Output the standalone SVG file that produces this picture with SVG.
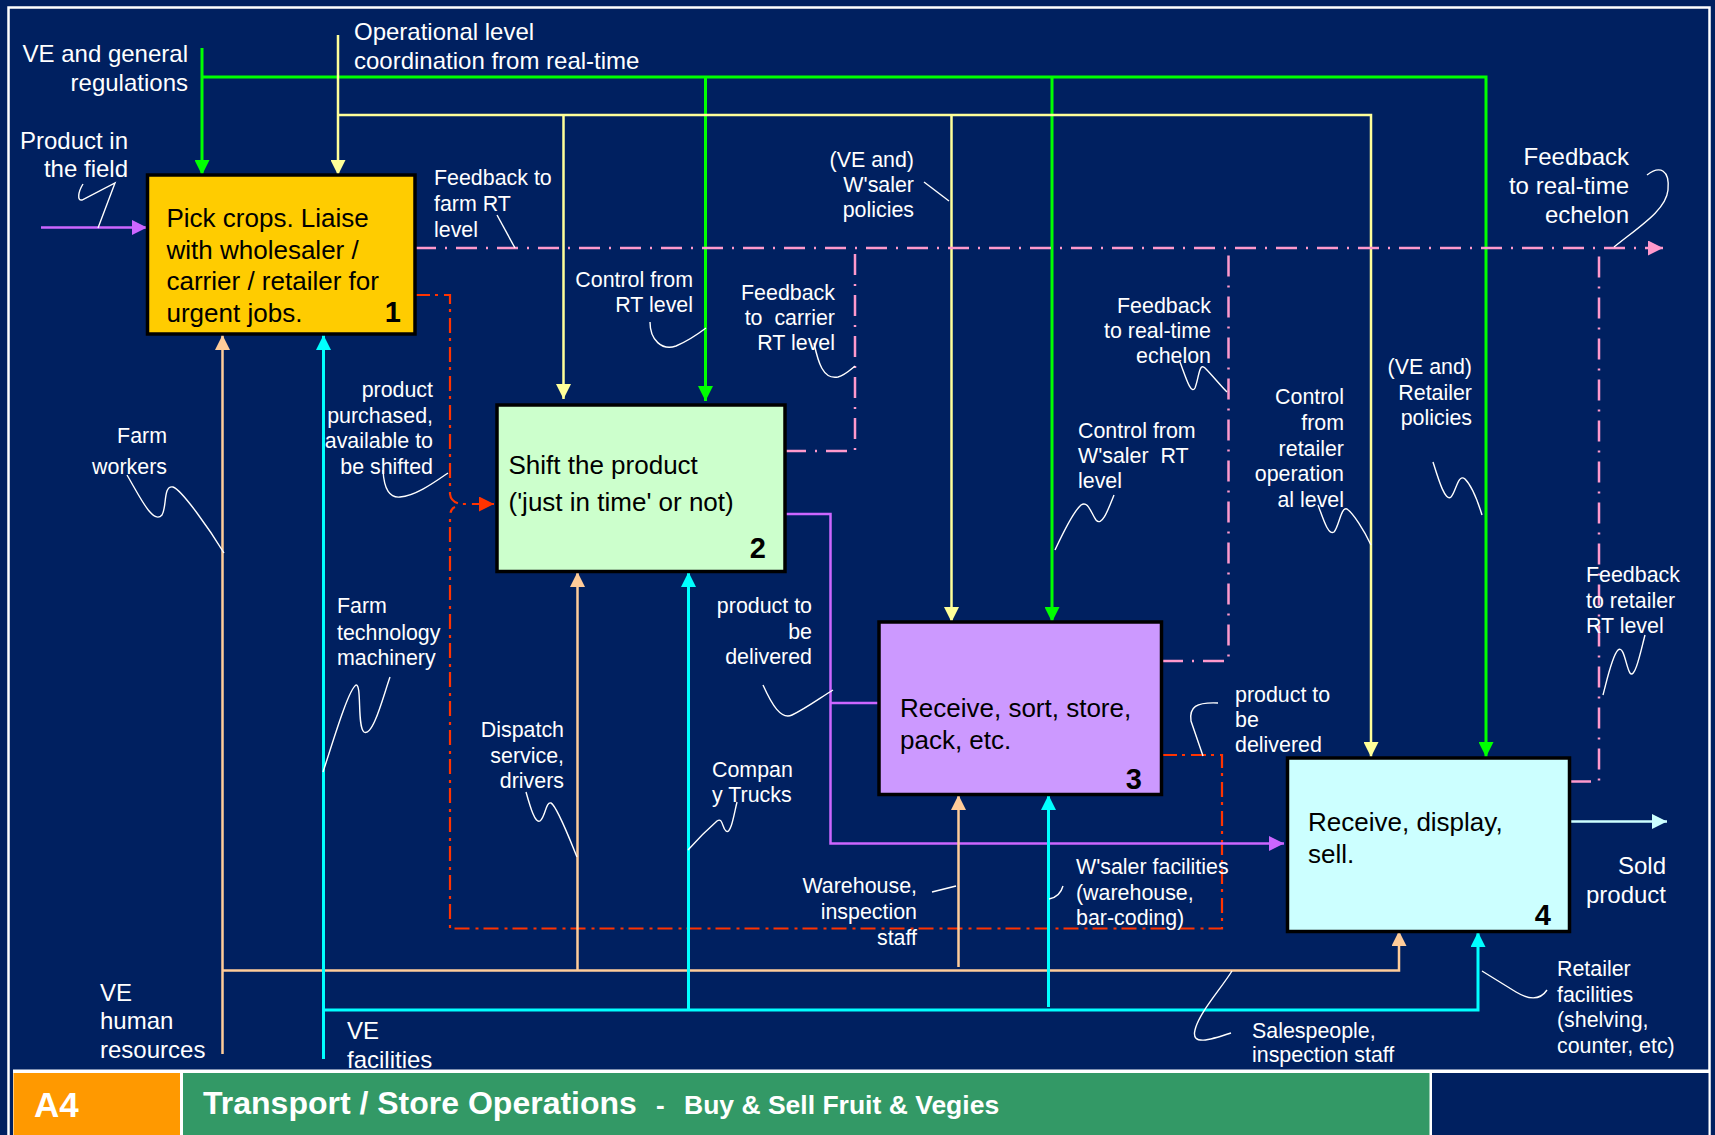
<svg xmlns="http://www.w3.org/2000/svg" width="1715" height="1135" viewBox="0 0 1715 1135">
  <style>
    text { font-family: "Liberation Sans", Arial, sans-serif; }
    .bl { font-size: 24px; fill: #ffffff; }
    .sl { font-size: 21.4px; fill: #ffffff; white-space: pre; }
    .end { text-anchor: end; }
    .bt { font-size: 26px; fill: #000000; }
    .num { font-size: 29px; font-weight: bold; fill: #000000; text-anchor: end; }
    .box { stroke: #000000; stroke-width: 3.5; }
    .c { fill: none; }
    .green { stroke: #00ff00; stroke-width: 3; }
    .yellow { stroke: #ffff99; stroke-width: 2.5; }
    .pink { stroke: #ff99cc; stroke-width: 2.5; stroke-dasharray: 21 9 2 9; }
    .red { stroke: #ff3300; stroke-width: 2.2; stroke-dasharray: 15 5 3 6; }
    .purple { stroke: #cc66ff; stroke-width: 2.5; }
    .peach { stroke: #ffcc99; stroke-width: 2.5; }
    .cyan { stroke: #00ffff; stroke-width: 3; }
    .sold { stroke: #ccffff; stroke-width: 2.5; }
    .sq { fill: none; stroke: #ffffff; stroke-width: 1.4; }
    .ft { font-weight: bold; fill: #ffffff; }
  </style>
  <defs>
    <marker id="ah-green" viewBox="0 0 15 15" refX="15" refY="7.5" markerWidth="15" markerHeight="15" markerUnits="userSpaceOnUse" orient="auto"><path d="M0,0 L15,7.5 L0,15 z" fill="#00ff00"/></marker>
    <marker id="ah-yellow" viewBox="0 0 15 15" refX="15" refY="7.5" markerWidth="15" markerHeight="15" markerUnits="userSpaceOnUse" orient="auto"><path d="M0,0 L15,7.5 L0,15 z" fill="#ffff99"/></marker>
    <marker id="ah-pink" viewBox="0 0 15 15" refX="15" refY="7.5" markerWidth="15" markerHeight="15" markerUnits="userSpaceOnUse" orient="auto"><path d="M0,0 L15,7.5 L0,15 z" fill="#ff99cc"/></marker>
    <marker id="ah-red" viewBox="0 0 15 15" refX="15" refY="7.5" markerWidth="15" markerHeight="15" markerUnits="userSpaceOnUse" orient="auto"><path d="M0,0 L15,7.5 L0,15 z" fill="#ff3300"/></marker>
    <marker id="ah-purple" viewBox="0 0 15 15" refX="15" refY="7.5" markerWidth="16" markerHeight="15" markerUnits="userSpaceOnUse" orient="auto"><path d="M0,0 L15,7.5 L0,15 z" fill="#cc66ff"/></marker>
    <marker id="ah-peach" viewBox="0 0 15 15" refX="15" refY="7.5" markerWidth="15" markerHeight="15" markerUnits="userSpaceOnUse" orient="auto"><path d="M0,0 L15,7.5 L0,15 z" fill="#ffcc99"/></marker>
    <marker id="ah-cyan" viewBox="0 0 15 15" refX="15" refY="7.5" markerWidth="15" markerHeight="15" markerUnits="userSpaceOnUse" orient="auto"><path d="M0,0 L15,7.5 L0,15 z" fill="#00ffff"/></marker>
    <marker id="ah-sold" viewBox="0 0 15 15" refX="15" refY="7.5" markerWidth="15" markerHeight="15" markerUnits="userSpaceOnUse" orient="auto"><path d="M0,0 L15,7.5 L0,15 z" fill="#ccffff"/></marker>
  </defs>

  <!-- slide background and frame -->
  <rect x="0" y="0" width="1715" height="1135" fill="#002060"/>
  <rect x="8.5" y="7.5" width="1701" height="1140" fill="none" stroke="#ffffff" stroke-width="2.5"/>

  <!-- connectors -->
  <g id="connectors">
    <!-- controls: regulations / policies -->
    <path class="c green" d="M202,48 V175" marker-end="url(#ah-green)"/>
    <path class="c green" d="M202,77 H1486 V757" marker-end="url(#ah-green)"/>
    <path class="c green" d="M705.5,77 V401" marker-end="url(#ah-green)"/>
    <path class="c green" d="M1052,77 V622" marker-end="url(#ah-green)"/>
    <!-- controls: real-time coordination -->
    <path class="c yellow" d="M338,35 V175" marker-end="url(#ah-yellow)"/>
    <path class="c yellow" d="M338,115 H1371 V757" marker-end="url(#ah-yellow)"/>
    <path class="c yellow" d="M563.5,115 V399" marker-end="url(#ah-yellow)"/>
    <path class="c yellow" d="M951.5,115 V622" marker-end="url(#ah-yellow)"/>
    <!-- feedback to real-time echelon -->
    <path class="c pink" d="M415,248 H1663" marker-end="url(#ah-pink)"/>
    <path class="c pink" d="M785,451 H855 V248"/>
    <path class="c pink" d="M1162,661 H1228.5 V248"/>
    <path class="c pink" d="M1570,781.5 H1599 V248"/>
    <!-- product purchased, available to be shifted -->
    <path class="c red" d="M415,295 H450 V494 Q451,503 462,504 H494" marker-end="url(#ah-red)"/>
    <path class="c red" d="M1162,755 H1222 V928.5 H450 V517 Q450,509 455,507"/>
    <!-- product flow -->
    <path class="c purple" d="M41,227.5 H147" marker-end="url(#ah-purple)"/>
    <path class="c purple" d="M785,514 H830.5 V843.5 H1284" marker-end="url(#ah-purple)"/>
    <path class="c purple" d="M830.5,703 H879"/>
    <path class="c sold" d="M1570,821.5 H1667" marker-end="url(#ah-sold)"/>
    <!-- mechanisms: human resources -->
    <path class="c peach" d="M222.5,1054 V335" marker-end="url(#ah-peach)"/>
    <path class="c peach" d="M222.5,970.5 H1399 V931" marker-end="url(#ah-peach)"/>
    <path class="c peach" d="M577.5,970.5 V572" marker-end="url(#ah-peach)"/>
    <path class="c peach" d="M958.5,967 V795" marker-end="url(#ah-peach)"/>
    <!-- mechanisms: facilities -->
    <path class="c cyan" d="M323.5,1059 V335" marker-end="url(#ah-cyan)"/>
    <path class="c cyan" d="M323.5,1010 H1478 V932" marker-end="url(#ah-cyan)"/>
    <path class="c cyan" d="M688.5,1010 V572" marker-end="url(#ah-cyan)"/>
    <path class="c cyan" d="M1048.5,1007 V795" marker-end="url(#ah-cyan)"/>

    <!-- label leader squiggles -->
    <path class="sq" d="M83,184 C78,192 77,201 82,200 L115,183 L98,228"/>
    <path class="sq" d="M497,215 L515,248"/>
    <path class="sq" d="M650,322 C650,340 662,351 676,346 C688,341 698,334 706,328"/>
    <path class="sq" d="M814,343 C818,362 823,380 838,377 C845,375 850,370 855,366"/>
    <path class="sq" d="M924,182 L949,201"/>
    <path class="sq" d="M1180,362 C1186,378 1191,395 1195,388 C1199,378 1199,362 1205,368 C1212,375 1220,385 1227,392"/>
    <path class="sq" d="M1114,495 C1108,510 1102,527 1096,520 C1091,513 1088,500 1081,505 C1073,512 1062,535 1055,550"/>
    <path class="sq" d="M1318,505 C1323,518 1328,536 1334,532 C1339,527 1341,506 1347,509 C1353,513 1364,530 1371,545"/>
    <path class="sq" d="M1433,462 C1438,478 1445,502 1451,497 C1456,492 1458,473 1465,479 C1471,485 1478,502 1482,515"/>
    <path class="sq" d="M1645,635 C1641,650 1635,680 1630,673 C1626,667 1624,645 1618,650 C1612,656 1607,680 1603,695"/>
    <path class="sq" d="M1647,175 C1660,165 1670,170 1668,190 C1666,210 1640,226 1614,247"/>
    <path class="sq" d="M383,470 C384,490 390,498 400,497 C415,496 432,484 448,473"/>
    <path class="sq" d="M127,475 C140,497 153,525 162,515 C167,507 163,485 173,487 C182,490 210,530 224,553"/>
    <path class="sq" d="M390,677 C383,697 373,737 364,732 C357,727 362,684 356,685 C348,690 332,745 323,772"/>
    <path class="sq" d="M526,792 C530,806 535,824 540,821 C545,818 546,801 551,803 C557,806 570,840 577,857"/>
    <path class="sq" d="M763,685 C772,705 781,720 792,715 C805,709 820,698 833,690"/>
    <path class="sq" d="M737,802 C734,814 731,835 726,831 C722,828 723,817 717,821 C709,828 696,841 688,850"/>
    <path class="sq" d="M932,892 L956,886"/>
    <path class="sq" d="M1063,886 Q1060,897 1049,899"/>
    <path class="sq" d="M1218,703 C1196,702 1189,707 1191,721 L1203,756"/>
    <path class="sq" d="M1231,1033 C1210,1040 1191,1046 1195,1030 C1199,1013 1220,990 1232,971"/>
    <path class="sq" d="M1547,990 C1541,999 1531,1001 1516,992 L1482,971"/>
  </g>

  <!-- activity boxes -->
  <g id="node-1">
    <rect class="box" x="147.5" y="175" width="267.5" height="159" fill="#ffcc00"/>
    <text class="bt" x="166.5" y="227">Pick crops. Liaise</text>
    <text class="bt" x="166.5" y="258.5">with wholesaler /</text>
    <text class="bt" x="166.5" y="290">carrier / retailer for</text>
    <text class="bt" x="166.5" y="321.5">urgent jobs.</text>
    <text class="num" x="401" y="321.5">1</text>
  </g>
  <g id="node-2">
    <rect class="box" x="497" y="405" width="288" height="166.5" fill="#ccffcc"/>
    <text class="bt" x="508.5" y="474">Shift the product</text>
    <text class="bt" x="508.5" y="511">('just in time' or not)</text>
    <text class="num" x="766" y="558">2</text>
  </g>
  <g id="node-3">
    <rect class="box" x="879" y="622" width="282.5" height="172.5" fill="#cc99ff"/>
    <text class="bt" x="900" y="717">Receive, sort, store,</text>
    <text class="bt" x="900" y="748.5">pack, etc.</text>
    <text class="num" x="1142" y="789">3</text>
  </g>
  <g id="node-4">
    <rect class="box" x="1287.5" y="758" width="282" height="173.5" fill="#ccffff"/>
    <text class="bt" x="1308" y="831">Receive, display,</text>
    <text class="bt" x="1308" y="863">sell.</text>
    <text class="num" x="1551" y="925">4</text>
  </g>

  <!-- arrow labels -->
  <g id="labels">
    <text class="bl end"><tspan x="188" y="62">VE and general</tspan><tspan x="188" y="91">regulations</tspan></text>
    <text class="bl"><tspan x="354" y="40">Operational level</tspan><tspan x="354" y="69">coordination from real-time</tspan></text>
    <text class="bl end"><tspan x="128" y="149">Product in</tspan><tspan x="128" y="177">the field</tspan></text>
    <text class="bl end"><tspan x="1629" y="165">Feedback</tspan><tspan x="1629" y="194">to real-time</tspan><tspan x="1629" y="223">echelon</tspan></text>
    <text class="bl end"><tspan x="1666" y="874">Sold</tspan><tspan x="1666" y="903">product</tspan></text>
    <text class="bl"><tspan x="100" y="1001">VE</tspan><tspan x="100" y="1029">human</tspan><tspan x="100" y="1058">resources</tspan></text>
    <text class="bl"><tspan x="347" y="1039">VE</tspan><tspan x="347" y="1068">facilities</tspan></text>

    <text class="sl"><tspan x="434" y="185">Feedback to</tspan><tspan x="434" y="211">farm RT</tspan><tspan x="434" y="237">level</tspan></text>
    <text class="sl end"><tspan x="693" y="287">Control from</tspan><tspan x="693" y="312">RT level</tspan></text>
    <text class="sl end"><tspan x="835" y="300">Feedback</tspan><tspan x="835" y="325">to  carrier</tspan><tspan x="835" y="350">RT level</tspan></text>
    <text class="sl end"><tspan x="914" y="167">(VE and)</tspan><tspan x="914" y="192">W'saler</tspan><tspan x="914" y="217">policies</tspan></text>
    <text class="sl end"><tspan x="1211" y="313">Feedback</tspan><tspan x="1211" y="338">to real-time</tspan><tspan x="1211" y="363">echelon</tspan></text>
    <text class="sl end"><tspan x="1344" y="404">Control</tspan><tspan x="1344" y="430">from</tspan><tspan x="1344" y="456">retailer</tspan><tspan x="1344" y="481">operation</tspan><tspan x="1344" y="507">al level</tspan></text>
    <text class="sl end"><tspan x="1472" y="374">(VE and)</tspan><tspan x="1472" y="399.5">Retailer</tspan><tspan x="1472" y="425">policies</tspan></text>
    <text class="sl"><tspan x="1078" y="438">Control from</tspan><tspan x="1078" y="463">W'saler  RT</tspan><tspan x="1078" y="488">level</tspan></text>
    <text class="sl"><tspan x="1586" y="582">Feedback</tspan><tspan x="1586" y="608">to retailer</tspan><tspan x="1586" y="633">RT level</tspan></text>
    <text class="sl end"><tspan x="433" y="397">product</tspan><tspan x="433" y="423">purchased,</tspan><tspan x="433" y="448">available to</tspan><tspan x="433" y="474">be shifted</tspan></text>
    <text class="sl end"><tspan x="167" y="443">Farm</tspan><tspan x="167" y="474">workers</tspan></text>
    <text class="sl"><tspan x="337" y="613">Farm</tspan><tspan x="337" y="640">technology</tspan><tspan x="337" y="665">machinery</tspan></text>
    <text class="sl end"><tspan x="564" y="737">Dispatch</tspan><tspan x="564" y="763">service,</tspan><tspan x="564" y="788">drivers</tspan></text>
    <text class="sl end"><tspan x="812" y="613">product to</tspan><tspan x="812" y="639">be</tspan><tspan x="812" y="664">delivered</tspan></text>
    <text class="sl"><tspan x="712" y="777">Compan</tspan><tspan x="712" y="802">y Trucks</tspan></text>
    <text class="sl end"><tspan x="917" y="893">Warehouse,</tspan><tspan x="917" y="919">inspection</tspan><tspan x="917" y="945">staff</tspan></text>
    <text class="sl"><tspan x="1076" y="874">W'saler facilities</tspan><tspan x="1076" y="900">(warehouse,</tspan><tspan x="1076" y="925">bar-coding)</tspan></text>
    <text class="sl"><tspan x="1235" y="702">product to</tspan><tspan x="1235" y="727">be</tspan><tspan x="1235" y="752">delivered</tspan></text>
    <text class="sl"><tspan x="1252" y="1038">Salespeople,</tspan><tspan x="1252" y="1062">inspection staff</tspan></text>
    <text class="sl"><tspan x="1557" y="976">Retailer</tspan><tspan x="1557" y="1002">facilities</tspan><tspan x="1557" y="1027">(shelving,</tspan><tspan x="1557" y="1053">counter, etc)</tspan></text>
  </g>

  <!-- title bar -->
  <g id="footer">
    <rect x="13" y="1069.5" width="1697" height="70" fill="#ffffff"/>
    <rect x="13.5" y="1073" width="166.5" height="62" fill="#ff9900"/>
    <rect x="183" y="1073" width="1246.5" height="62" fill="#339966"/>
    <rect x="1432" y="1073" width="276.5" height="62" fill="#002060"/>
    <text class="ft" x="34" y="1117" font-size="35">A4</text>
    <text class="ft" x="203" y="1114" font-size="32">Transport / Store Operations</text>
    <text class="ft" x="656" y="1114" font-size="26">-</text>
    <text class="ft" x="684" y="1114" font-size="26.5">Buy &amp; Sell Fruit &amp; Vegies</text>
  </g>
</svg>
